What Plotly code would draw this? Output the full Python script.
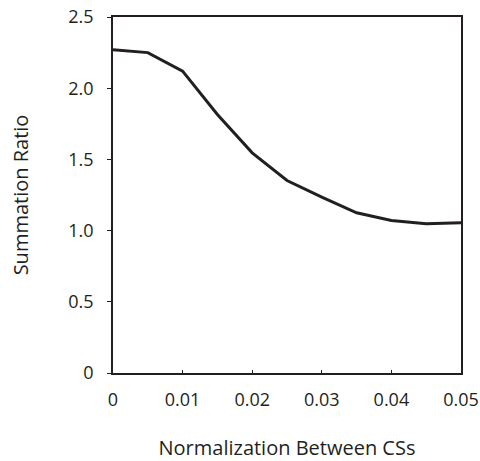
import plotly.graph_objects as go

x_vals = [0, 0.005, 0.01, 0.015, 0.02, 0.025, 0.03, 0.035, 0.04, 0.045, 0.05]
ratio = [2.27, 2.25, 2.12, 1.815, 1.546, 1.352, 1.235, 1.125, 1.071, 1.048, 1.055]

x_ticks = [0, 0.01, 0.02, 0.03, 0.04, 0.05]
x_ticktext = ["0", "0.01", "0.02", "0.03", "0.04", "0.05"]
y_ticks = [0, 0.5, 1.0, 1.5, 2.0, 2.5]
y_ticktext = ["0", "0.5", "1.0", "1.5", "2.0", "2.5"]

font = "Open Sans"

fig = go.Figure()
fig.add_trace(go.Scatter(x=x_vals, y=ratio, mode="lines",
                         line=dict(color="#231f20", width=3), showlegend=False))

fig.update_layout(
    width=480, height=461,
    margin=dict(l=113, r=19, t=17, b=88, autoexpand=False),
    paper_bgcolor="white", plot_bgcolor="white",
    font=dict(family=font, size=18, color="#231f20"),
)
fig.update_xaxes(
    range=[0, 0.05], tickvals=x_ticks, ticktext=x_ticktext,
    showgrid=False, zeroline=False, showline=True, linecolor="#231f20", linewidth=1.5,
    mirror=True, ticks="inside", ticklen=3, tickcolor="#231f20",
    ticklabelstandoff=10, ticklabeloverflow="allow", automargin=False,
    title=dict(text="Normalization Between CSs", font=dict(size=20), standoff=34),
)
fig.update_yaxes(
    range=[0, 2.5], tickvals=y_ticks, ticktext=y_ticktext,
    showgrid=False, zeroline=False, showline=True, linecolor="#231f20", linewidth=1.5,
    mirror=True, ticks="outside", ticklen=4, tickcolor="#231f20",
    ticklabelstandoff=10, automargin=False,
    title=dict(text="Summation Ratio", font=dict(size=20), standoff=34),
)

fig.write_html("out.html")
